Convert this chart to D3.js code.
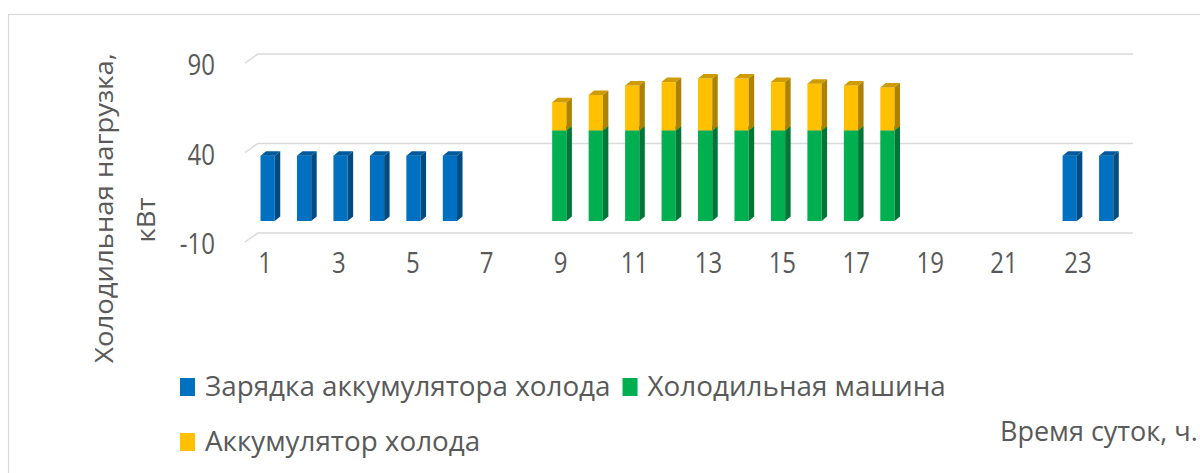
<!doctype html>
<html>
<head>
<meta charset="utf-8">
<title>Холодильная нагрузка</title>
<script src="https://d3js.org/d3.v7.min.js"></script>
<style>
  body { margin: 0; background: #fff; }
  text { font-family: "Open Sans", "Noto Sans", sans-serif; fill: #595959; }
</style>
</head>
<body>
<script>
// hours of the day
var hours = [1, 2, 3, 4, 5, 6, 7, 8, 9, 10, 11, 12, 13, 14, 15, 16, 17, 18, 19, 20, 21, 22, 23, 24];
// Зарядка аккумулятора холода
var charge = [36.5, 36.5, 36.5, 36.5, 36.5, 36.5, 0, 0, 0, 0, 0, 0, 0, 0, 0, 0, 0, 0, 0, 0, 0, 0, 36.5, 36.5];
// Холодильная машина
var chiller = [0, 0, 0, 0, 0, 0, 0, 0, 50.6, 50.6, 50.6, 50.6, 50.6, 50.6, 50.6, 50.6, 50.6, 50.6, 0, 0, 0, 0, 0, 0];
// Аккумулятор холода
var storage = [0, 0, 0, 0, 0, 0, 0, 0, 15.8, 19.8, 25.1, 27, 29, 29, 27, 26.1, 25.1, 24, 0, 0, 0, 0, 0, 0];
var yTicks = [-10, 40, 90];
var xTicks = [1, 3, 5, 7, 9, 11, 13, 15, 17, 19, 21, 23];
var seriesNames = ["Зарядка аккумулятора холода", "Холодильная машина", "Аккумулятор холода"];
var colors = ["#0070C0", "#00B050", "#FFC000"];

var W = 1200, H = 473;
var svg = d3.select("body").append("svg").attr("width", W).attr("height", H);

// chart border
svg.append("rect").attr("x", 8.5).attr("y", 14.5).attr("width", 1220).attr("height", 500)
    .attr("fill", "none").attr("stroke", "#d9d9d9").attr("stroke-width", 1.2);

// back wall scales
var x = d3.scaleBand().domain(hours).range([258, 1133]).paddingInner(0.61).paddingOuter(0.305);
var y = d3.scaleLinear().domain([-10, 90]).range([233, 54]);
var xLab = d3.scaleLinear().domain([1, 23]).range([265, 1078]);

var wallDx = -13, wallDy = 9;     // back wall -> front edge
var barFx = -8.6, barFy = 5.9;    // back wall -> bar front face
var depthX = 5.5, depthY = -4.5;  // bar depth

// gridlines
yTicks.forEach(function (t) {
    var gy = y(t);
    svg.append("path")
        .attr("d", "M" + (258 + wallDx) + "," + (gy + wallDy) + "L258," + gy + "L1133," + gy)
        .attr("fill", "none").attr("stroke", "#d9d9d9").attr("stroke-width", 1.5);
});

// y tick labels
yTicks.forEach(function (t) {
    svg.append("text")
        .attr("transform", "translate(215," + (y(t) + wallDy + 2) + ") scale(1,1.2)")
        .attr("text-anchor", "end").attr("dy", "0.35em")
        .attr("font-size", 24).text(t);
});

// x tick labels
xTicks.forEach(function (t) {
    svg.append("text")
        .attr("transform", "translate(" + xLab(t) + ",263) scale(1,1.2)")
        .attr("text-anchor", "middle").attr("dy", "0.35em")
        .attr("font-size", 24).text(t);
});

function bar(h, v0, v1, color) {
    if (v1 <= v0) return;
    var x0 = x(h) + barFx, w = x.bandwidth();
    var yt = y(v1) + barFy, yb = y(v0) + barFy;
    var g = svg.append("g");
    var c = d3.color(color);
    g.append("rect").attr("x", x0).attr("y", yt).attr("width", w).attr("height", yb - yt).attr("fill", color);
    g.append("path")
        .attr("d", "M" + (x0 + w) + "," + yt + "L" + (x0 + w + depthX) + "," + (yt + depthY) +
            "L" + (x0 + w + depthX) + "," + (yb + depthY) + "L" + (x0 + w) + "," + yb + "Z")
        .attr("fill", c.darker(1.1));
    g.append("path")
        .attr("d", "M" + x0 + "," + yt + "L" + (x0 + depthX) + "," + (yt + depthY) +
            "L" + (x0 + w + depthX) + "," + (yt + depthY) + "L" + (x0 + w) + "," + yt + "Z")
        .attr("fill", c.darker(0.6));
}

hours.forEach(function (h, i) {
    bar(h, 0, charge[i], colors[0]);
    bar(h, 0, chiller[i], colors[1]);
    bar(h, chiller[i], chiller[i] + storage[i], colors[2]);
});

// y axis title
svg.append("text")
    .attr("transform", "translate(113,208) scale(1,1.1) rotate(-90)")
    .attr("text-anchor", "middle").attr("font-size", 25).text("Холодильная нагрузка,");
svg.append("text")
    .attr("transform", "translate(155,220) scale(1,1.1) rotate(-90)")
    .attr("text-anchor", "middle").attr("font-size", 25).text("кВт");

// x axis title
svg.append("text").attr("x", 1000).attr("y", 441).attr("font-size", 27).text("Время суток, ч.");

// legend: two rows, entries flow left to right
var legendRows = [[0, 1], [2]];
var rowBase = [396, 451];
legendRows.forEach(function (row, r) {
    var lx = 180;
    row.forEach(function (i) {
        svg.append("rect").attr("x", lx).attr("y", rowBase[r] - 18).attr("width", 15).attr("height", 18)
            .attr("fill", colors[i]);
        var t = svg.append("text")
            .attr("transform", "translate(" + (lx + 25) + "," + rowBase[r] + ") scale(1,0.95)")
            .attr("font-size", 27.8).text(seriesNames[i]);
        lx += 25 + t.node().getComputedTextLength() + 12;
    });
});
</script>
</body>
</html>
